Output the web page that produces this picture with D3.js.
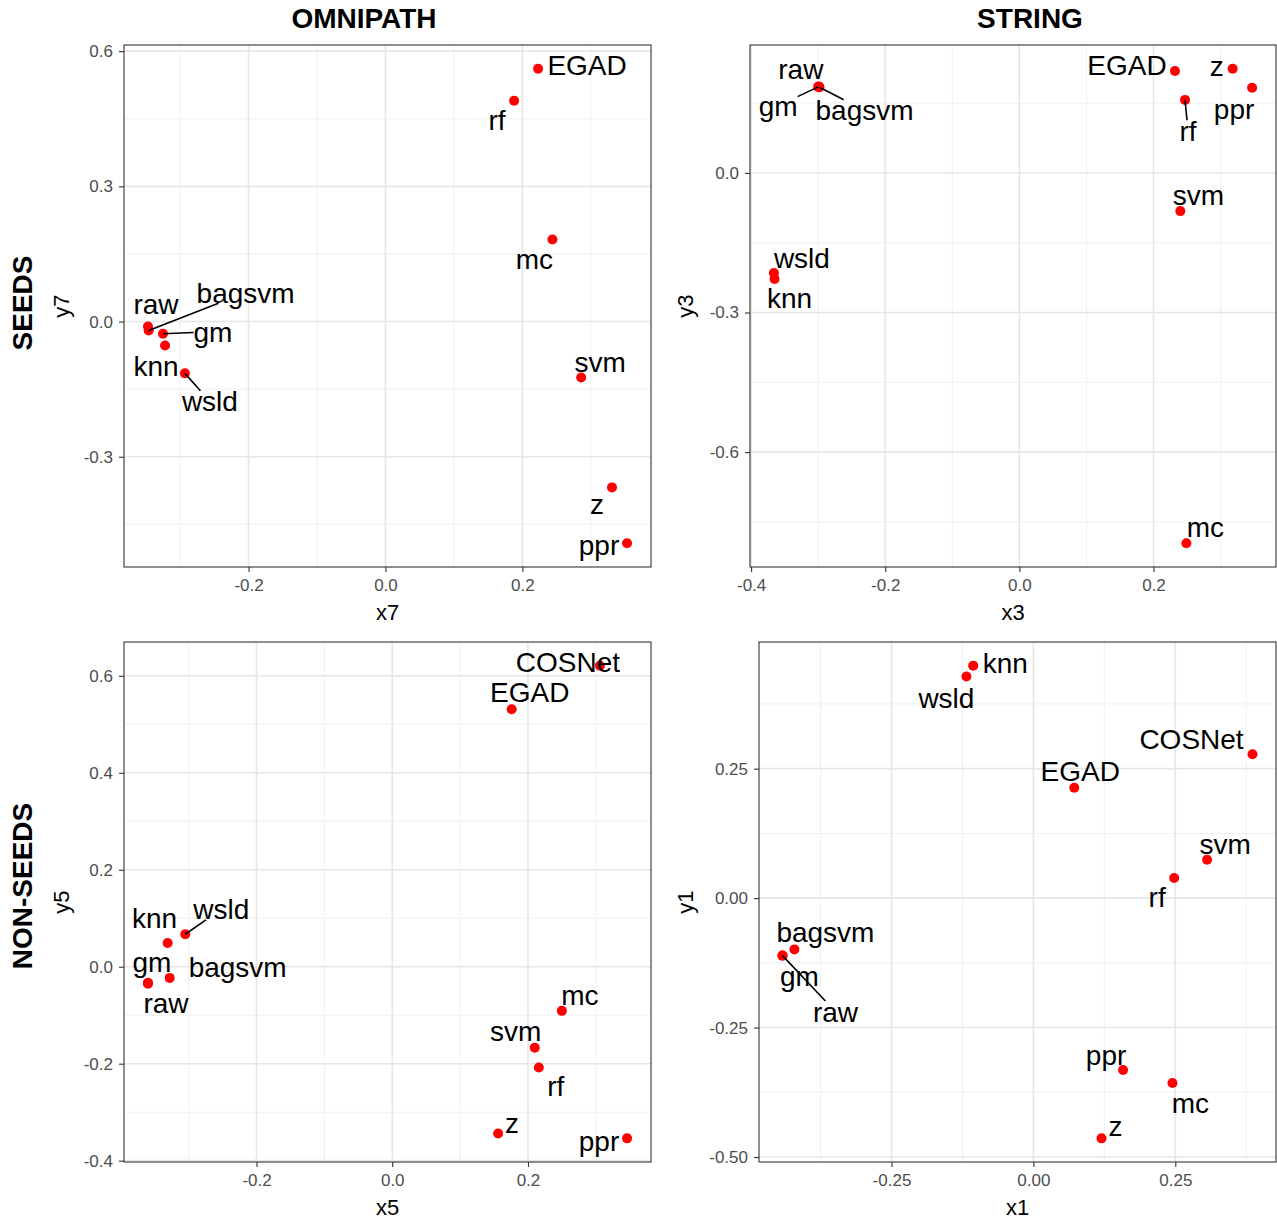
<!DOCTYPE html>
<html>
<head>
<meta charset="utf-8">
<script src="https://d3js.org/d3.v7.min.js"></script>
<style>
body { margin: 0; background: #fff; }
text { font-family: "Liberation Sans", Arial, sans-serif; }
</style>
</head>
<body>
<svg id="drawing_region"></svg>
<script>
// OMNIPATH, seeds
const omniSeedNames = ["EGAD", "rf", "mc", "svm", "z", "ppr", "raw", "bagsvm", "gm", "knn", "wsld"];
const omniSeedX = [0.223, 0.188, 0.244, 0.286, 0.331, 0.353, -0.347, -0.346, -0.325, -0.322, -0.293];
const omniSeedY = [0.561, 0.490, 0.182, -0.124, -0.368, -0.492, -0.011, -0.020, -0.027, -0.053, -0.115];
const omniSeedXTicks = [-0.2, 0.0, 0.2];
const omniSeedXTickLabels = ["-0.2", "0.0", "0.2"];
const omniSeedYTicks = [-0.3, 0.0, 0.3, 0.6];
const omniSeedYTickLabels = ["-0.3", "0.0", "0.3", "0.6"];

// STRING, seeds
const stringSeedNames = ["raw", "gm", "bagsvm", "EGAD", "z", "ppr", "rf", "svm", "wsld", "knn", "mc"];
const stringSeedX = [-0.299, -0.300, -0.298, 0.232, 0.318, 0.347, 0.247, 0.240, -0.366, -0.365, 0.249];
const stringSeedY = [0.186, 0.185, 0.184, 0.219, 0.224, 0.183, 0.157, -0.082, -0.215, -0.228, -0.796];
const stringSeedXTicks = [-0.4, -0.2, 0.0, 0.2];
const stringSeedXTickLabels = ["-0.4", "-0.2", "0.0", "0.2"];
const stringSeedYTicks = [-0.6, -0.3, 0.0];
const stringSeedYTickLabels = ["-0.6", "-0.3", "0.0"];

// OMNIPATH, non-seeds
const omniNonNames = ["COSNet", "EGAD", "mc", "svm", "rf", "z", "ppr", "wsld", "knn", "gm", "bagsvm", "raw"];
const omniNonX = [0.306, 0.176, 0.250, 0.210, 0.216, 0.156, 0.346, -0.305, -0.331, -0.360, -0.328, -0.360];
const omniNonY = [0.621, 0.531, -0.091, -0.167, -0.208, -0.344, -0.354, 0.067, 0.049, -0.033, -0.023, -0.035];
const omniNonXTicks = [-0.2, 0.0, 0.2];
const omniNonXTickLabels = ["-0.2", "0.0", "0.2"];
const omniNonYTicks = [-0.4, -0.2, 0.0, 0.2, 0.4, 0.6];
const omniNonYTickLabels = ["-0.4", "-0.2", "0.0", "0.2", "0.4", "0.6"];

// STRING, non-seeds
const stringNonNames = ["knn", "wsld", "COSNet", "EGAD", "svm", "rf", "bagsvm", "gm", "raw", "ppr", "mc", "z"];
const stringNonX = [-0.106, -0.118, 0.386, 0.072, 0.306, 0.248, -0.421, -0.442, -0.442, 0.158, 0.245, 0.120];
const stringNonY = [0.449, 0.428, 0.278, 0.213, 0.074, 0.039, -0.099, -0.111, -0.111, -0.332, -0.357, -0.464];
const stringNonXTicks = [-0.25, 0.0, 0.25];
const stringNonXTickLabels = ["-0.25", "0.00", "0.25"];
const stringNonYTicks = [-0.5, -0.25, 0.0, 0.25];
const stringNonYTickLabels = ["-0.50", "-0.25", "0.00", "0.25"];

// label placement (pixel nudges from the point, like ggrepel left them)
const omniSeedNudge = [[49,-4],[-17,19],[-18,19],[19,-16],[-15,17],[-28,2],[8,-23],[97,-38],[50,-2],[-9,20],[25,28]];
const stringSeedNudge = [[-18,-17],[-40,19],[45,23],[-48,-6],[-16,-3],[-18,21],[3,31],[18,-16],[28,-15],[15,19],[19,-16]];
const omniNonNudge = [[-32,-4],[18,-17],[18,-16],[-19,-17],[17,18],[14,-11],[-28,3],[36,-25],[-13,-25],[4,-21],[68,-11],[18,19]];
const stringNonNudge = [[32,-3],[-20,21],[-61,-15],[6,-17],[18,-16],[-17,19],[31,-17],[17,20],[53,56],[-17,-15],[18,20],[14,-12]];

class ScatterPanel {

    constructor( config, data ) {
        this.config = {
            parent: config.parent,
            box: config.box,
            xTicks: config.xTicks,
            xTickLabels: config.xTickLabels,
            yTicks: config.yTicks,
            yTickLabels: config.yTickLabels,
            xTitle: config.xTitle,
            yTitle: config.yTitle,
            yTitleX: config.yTitleX,
            lines: config.lines || []
        }
        this.data = data;
        this.init();
    }

    init() {
        let self = this;
        const b = self.config.box;

        const pad = ( ext ) => {
            const e = (ext[1] - ext[0]) * 0.05;
            return [ext[0] - e, ext[1] + e];
        };

        self.xscale = d3.scaleLinear()
            .domain( pad( d3.extent(self.data, d => d.x) ) )
            .range( [b.left, b.right] );

        self.yscale = d3.scaleLinear()
            .domain( pad( d3.extent(self.data, d => d.y) ) )
            .range( [b.bottom, b.top] );

        self.chart = self.config.parent.append('g');
    }

    minor( ticks, scale ) {
        const step = ticks[1] - ticks[0];
        const dom = scale.domain();
        let out = [];
        for (let i = -1; i < ticks.length; i++) {
            const v = ticks[0] + (i + 0.5) * step;
            if (v > dom[0] && v < dom[1]) out.push(v);
        }
        return out;
    }

    render() {
        let self = this;
        const b = self.config.box;
        const g = self.chart;

        // grid
        const grid = g.append('g');
        grid.selectAll('.vminor')
            .data( self.minor(self.config.xTicks, self.xscale) )
            .join('line')
            .attr('x1', d => self.xscale(d)).attr('x2', d => self.xscale(d))
            .attr('y1', b.top).attr('y2', b.bottom)
            .attr('stroke', '#f0f0f0').attr('stroke-width', 1);
        grid.selectAll('.hminor')
            .data( self.minor(self.config.yTicks, self.yscale) )
            .join('line')
            .attr('y1', d => self.yscale(d)).attr('y2', d => self.yscale(d))
            .attr('x1', b.left).attr('x2', b.right)
            .attr('stroke', '#f0f0f0').attr('stroke-width', 1);
        grid.selectAll('.vmajor')
            .data( self.config.xTicks )
            .join('line')
            .attr('x1', d => self.xscale(d)).attr('x2', d => self.xscale(d))
            .attr('y1', b.top).attr('y2', b.bottom)
            .attr('stroke', '#e6e6e6').attr('stroke-width', 1.6);
        grid.selectAll('.hmajor')
            .data( self.config.yTicks )
            .join('line')
            .attr('y1', d => self.yscale(d)).attr('y2', d => self.yscale(d))
            .attr('x1', b.left).attr('x2', b.right)
            .attr('stroke', '#e6e6e6').attr('stroke-width', 1.6);

        // axes
        const xaxis = d3.axisBottom( self.xscale )
            .tickValues( self.config.xTicks )
            .tickFormat( (d, i) => self.config.xTickLabels[i] )
            .tickSize(5).tickPadding(7).tickSizeOuter(0);
        const yaxis = d3.axisLeft( self.yscale )
            .tickValues( self.config.yTicks )
            .tickFormat( (d, i) => self.config.yTickLabels[i] )
            .tickSize(5).tickPadding(6).tickSizeOuter(0);

        const xg = g.append('g')
            .attr('transform', `translate(0, ${b.bottom})`)
            .call( xaxis );
        const yg = g.append('g')
            .attr('transform', `translate(${b.left}, 0)`)
            .call( yaxis );
        [xg, yg].forEach( a => {
            a.select('.domain').remove();
            a.selectAll('line').attr('stroke', '#333333').attr('stroke-width', 1.1);
            a.selectAll('text')
                .attr('fill', '#4d4d4d')
                .style('font-size', '17px')
                .style('font-family', '"Liberation Sans", Arial, sans-serif');
        });

        // border
        g.append('rect')
            .attr('x', b.left).attr('y', b.top)
            .attr('width', b.right - b.left).attr('height', b.bottom - b.top)
            .attr('fill', 'none')
            .attr('stroke', '#333333')
            .attr('stroke-width', 1.1);

        // axis titles
        g.append('text')
            .attr('x', (b.left + b.right) / 2)
            .attr('y', b.bottom + 53)
            .attr('text-anchor', 'middle')
            .style('font-size', '22px')
            .text( self.config.xTitle );
        g.append('text')
            .attr('transform', `translate(${self.config.yTitleX}, ${(b.top + b.bottom) / 2}) rotate(-90)`)
            .attr('text-anchor', 'middle')
            .style('font-size', '22px')
            .text( self.config.yTitle );

        // points
        g.append('g').selectAll('circle')
            .data( self.data )
            .join('circle')
            .attr('cx', d => self.xscale(d.x))
            .attr('cy', d => self.yscale(d.y))
            .attr('r', 5)
            .attr('fill', '#ff0000');

        const segs = g.append('g');

        // labels
        const fs = 28;
        const labels = g.append('g').selectAll('text')
            .data( self.data )
            .join('text')
            .attr('x', d => self.xscale(d.x) + d.dx)
            .attr('y', d => self.yscale(d.y) + d.dy)
            .attr('dy', '0.36em')
            .attr('text-anchor', 'middle')
            .style('font-size', fs + 'px')
            .attr('fill', '#000')
            .text( d => d.label );

        // repel segments
        labels.each( function(d) {
            if (self.config.lines.indexOf(d.label) < 0) return;
            const bb = this.getBBox();
            const px = self.xscale(d.x), py = self.yscale(d.y);
            const cx = px + d.dx, cy = py + d.dy;
            const hw = bb.width / 2, hh = fs * 0.38;
            const vx = cx - px, vy = cy - py;
            let t = 0;
            if (Math.abs(vx) > 0) t = Math.max(t, (Math.abs(vx) - hw) / Math.abs(vx));
            if (Math.abs(vy) > 0) t = Math.max(t, (Math.abs(vy) - hh) / Math.abs(vy));
            segs.append('line')
                .attr('x1', px).attr('y1', py)
                .attr('x2', px + vx * t).attr('y2', py + vy * t)
                .attr('stroke', '#000')
                .attr('stroke-width', 1.6);
        });
    }
}

const svg = d3.select('#drawing_region')
    .attr('width', 1277)
    .attr('height', 1220);

const makeData = ( names, xs, ys, nudge ) =>
    names.map( (n, i) => ({ label: n, x: xs[i], y: ys[i], dx: nudge[i][0], dy: nudge[i][1] }) );

const panels = [
    { data: makeData(omniSeedNames, omniSeedX, omniSeedY, omniSeedNudge),
      box: {left:124, right:651, top:45, bottom:567},
      xTicks: omniSeedXTicks, xTickLabels: omniSeedXTickLabels,
      yTicks: omniSeedYTicks, yTickLabels: omniSeedYTickLabels,
      xTitle: 'x7', yTitle: 'y7', yTitleX: 69, lines: ['bagsvm', 'gm', 'wsld'] },
    { data: makeData(stringSeedNames, stringSeedX, stringSeedY, stringSeedNudge),
      box: {left:750, right:1276, top:45, bottom:567},
      xTicks: stringSeedXTicks, xTickLabels: stringSeedXTickLabels,
      yTicks: stringSeedYTicks, yTickLabels: stringSeedYTickLabels,
      xTitle: 'x3', yTitle: 'y3', yTitleX: 693, lines: ['gm', 'bagsvm', 'rf'] },
    { data: makeData(omniNonNames, omniNonX, omniNonY, omniNonNudge),
      box: {left:124, right:651, top:642, bottom:1162},
      xTicks: omniNonXTicks, xTickLabels: omniNonXTickLabels,
      yTicks: omniNonYTicks, yTickLabels: omniNonYTickLabels,
      xTitle: 'x5', yTitle: 'y5', yTitleX: 69, lines: ['wsld'] },
    { data: makeData(stringNonNames, stringNonX, stringNonY, stringNonNudge),
      box: {left:759, right:1276, top:642, bottom:1162},
      xTicks: stringNonXTicks, xTickLabels: stringNonXTickLabels,
      yTicks: stringNonYTicks, yTickLabels: stringNonYTickLabels,
      xTitle: 'x1', yTitle: 'y1', yTitleX: 693, lines: ['raw'] }
];

panels.forEach( p => {
    const panel = new ScatterPanel( Object.assign({ parent: svg }, p), p.data );
    panel.render();
});

// column and row titles
svg.append('text').attr('x', 364).attr('y', 28).attr('text-anchor', 'middle')
    .style('font-size', '28px').style('font-weight', 'bold').text('OMNIPATH');
svg.append('text').attr('x', 1030).attr('y', 28).attr('text-anchor', 'middle')
    .style('font-size', '28px').style('font-weight', 'bold').text('STRING');
svg.append('text').attr('transform', 'translate(32, 303) rotate(-90)').attr('text-anchor', 'middle')
    .style('font-size', '28px').style('font-weight', 'bold').text('SEEDS');
svg.append('text').attr('transform', 'translate(32, 886) rotate(-90)').attr('text-anchor', 'middle')
    .style('font-size', '28px').style('font-weight', 'bold').text('NON-SEEDS');
</script>
</body>
</html>
